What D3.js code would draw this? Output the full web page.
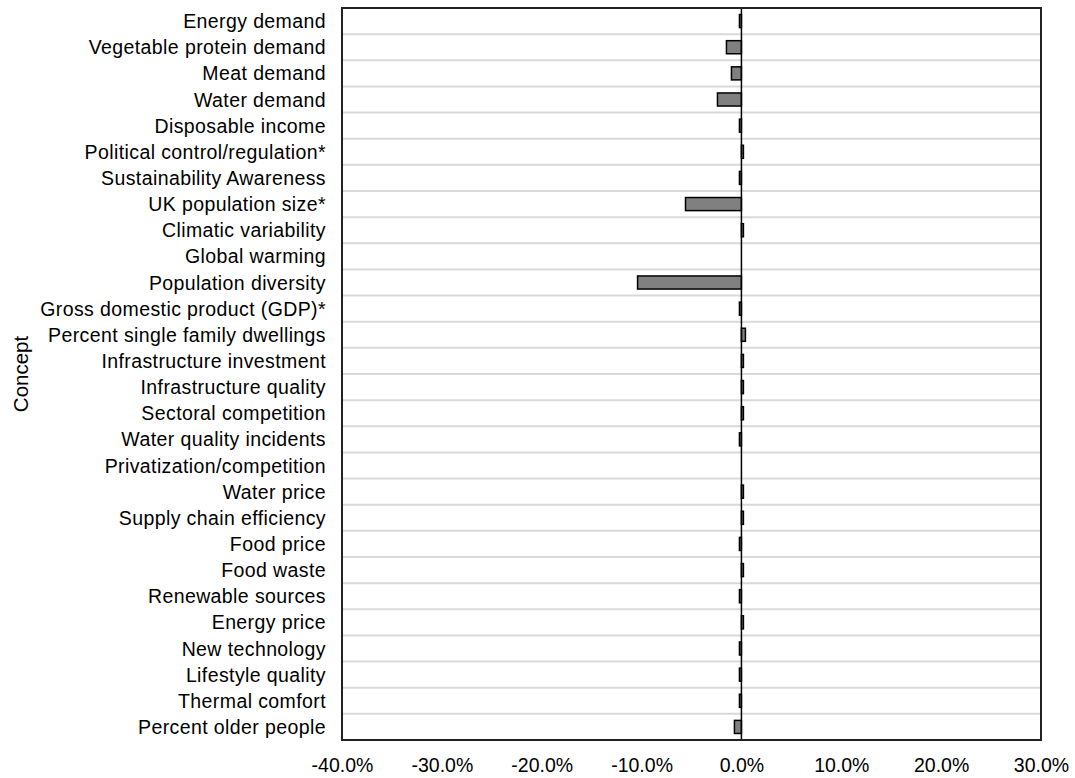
<!DOCTYPE html>
<html><head><meta charset="utf-8">
<script src="https://cdn.jsdelivr.net/npm/d3@7"></script>
<style>body{margin:0;background:#fff}svg{display:block}text{font-family:"Liberation Sans",Arial,sans-serif;fill:#000}</style>
</head><body><svg id="c" width="1075" height="778"></svg>
<script>
const categories = ["Energy demand","Vegetable protein demand","Meat demand","Water demand","Disposable income","Political control/regulation*","Sustainability Awareness","UK population size*","Climatic variability","Global warming","Population diversity","Gross domestic product (GDP)*","Percent single family dwellings","Infrastructure investment","Infrastructure quality","Sectoral competition","Water quality incidents","Privatization/competition","Water price","Supply chain efficiency","Food price ","Food waste","Renewable sources ","Energy price","New technology","Lifestyle quality","Thermal comfort","Percent older people "];
const values = [-0.002,-0.015,-0.010,-0.024,-0.002,0.002,-0.002,-0.056,0.002,0,-0.104,-0.002,0.004,0.002,0.002,0.002,-0.002,0,0.002,0.002,-0.002,0.002,-0.002,0.002,-0.002,-0.002,-0.002,-0.007];
const xTicks = [-0.4,-0.3,-0.2,-0.1,0,0.1,0.2,0.3];

const svg = d3.select("#c");
const L=342,R=1041,T=8,B=740;
const x = d3.scaleLinear().domain([-0.4,0.3]).range([L,R]);
const y = d3.scaleBand().domain(categories).range([T,B]).paddingInner(0.5).paddingOuter(0.25);

const step = (B-T)/categories.length;
svg.append("g").selectAll("line").data(d3.range(1,categories.length)).join("line")
  .attr("x1",L).attr("x2",R).attr("y1",d=>T+d*step).attr("y2",d=>T+d*step)
  .attr("stroke","#d9d9d9").attr("stroke-width",2);

svg.append("g").selectAll("rect").data(categories).join("rect")
  .attr("x",(d,i)=>Math.min(x(0),x(values[i])))
  .attr("width",(d,i)=>Math.abs(x(values[i])-x(0)))
  .attr("y",d=>y(d)).attr("height",y.bandwidth())
  .attr("fill","#808080").attr("stroke","#000").attr("stroke-width",1.5);

svg.append("line").attr("x1",x(0)).attr("x2",x(0)).attr("y1",T).attr("y2",B).attr("stroke","#000").attr("stroke-width",1.5);
svg.append("rect").attr("x",L).attr("y",T).attr("width",R-L).attr("height",B-T).attr("fill","none").attr("stroke","#222").attr("stroke-width",2);

svg.append("g").selectAll("text").data(categories).join("text")
  .attr("x",326).attr("y",d=>y(d)+y.bandwidth()/2).attr("dy","0.36em")
  .attr("text-anchor","end").attr("font-size",19.5).attr("letter-spacing",0.4).text(d=>d.trim());

const xa = d3.axisBottom(x).tickValues(xTicks).tickFormat(d=>d3.format(".1%")(d).replace("\u2212","-")).tickSize(0).tickPadding(0);
const g = svg.append("g").attr("transform",`translate(0,${B})`).call(xa);
g.select(".domain").remove();
g.selectAll("text").attr("dy",null).attr("y",32).attr("font-size",19.5).attr("font-family","Liberation Sans, Arial, sans-serif").attr("fill","#000");

svg.append("text").attr("transform","translate(28,374) rotate(-90)").attr("text-anchor","middle").attr("font-size",20.5).text("Concept");
</script></body></html>
